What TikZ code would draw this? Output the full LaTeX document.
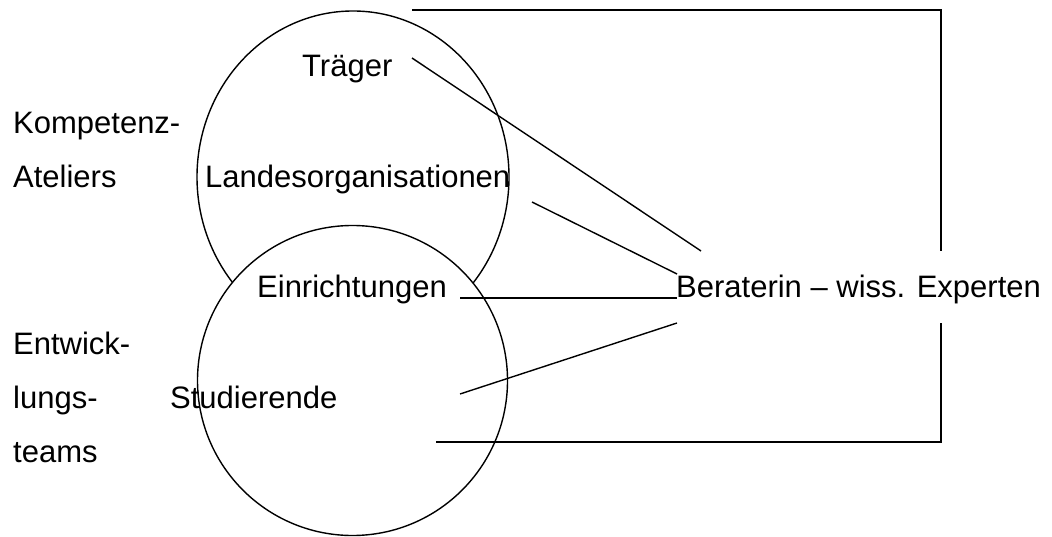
\documentclass[tikz,border=0pt]{standalone}
\usepackage{fontspec}
\setmainfont{Liberation Sans}
\begin{document}
\begin{tikzpicture}[x=1pt,y=-1pt,
  lbl/.style={anchor=base west,inner sep=0pt,font=\fontsize{31}{36}\selectfont},
  ln/.style={line width=1.4pt}]
\useasboundingbox (0,0) rectangle (1052,537);
% circles
\draw[ln] (353,177) ellipse [x radius=156, y radius=166];
\draw[ln,fill=white] (352.5,380.5) circle [radius=155];
% texts
\node[lbl] (trager) at (302,77) {Träger};
\node[lbl] (komp) at (13,134) {Kompetenz-};
\node[lbl] (atel) at (13,188) {Ateliers};
\node[lbl] (landes) at (205,188) {Landesorganisationen};
\node[lbl] (einr) at (257,298) {Einrichtungen};
\node[lbl] (berat) at (676,298) {Beraterin – wiss. Experten};
\node[lbl] (entw) at (13,354) {Entwick-};
\node[lbl] (lungs) at (13,408) {lungs-};
\node[lbl] (stud) at (170,408) {Studierende};
\node[lbl] (teams) at (13,462) {teams};
% connector ends
\coordinate (t1) at (412,58);
\coordinate (t2) at (701,251);
\coordinate (l1) at (532,202);
\coordinate (l2) at (677,274);
\coordinate (e1) at (460,298);
\coordinate (e2) at (677,298);
\coordinate (s1) at (460,394);
\coordinate (s2) at (677,323);
\coordinate (ta) at (412,10);
\coordinate (tb) at (941,251);
\coordinate (ba) at (941,323);
\coordinate (bb) at (436,442);
% connectors
\draw[ln] (t1) -- (t2);
\draw[ln] (l1) -- (l2);
\draw[ln] (e1) -- (e2);
\draw[ln] (s1) -- (s2);
\draw[ln] (ta) -| (tb);
\draw[ln] (ba) |- (bb);
\end{tikzpicture}
\end{document}
